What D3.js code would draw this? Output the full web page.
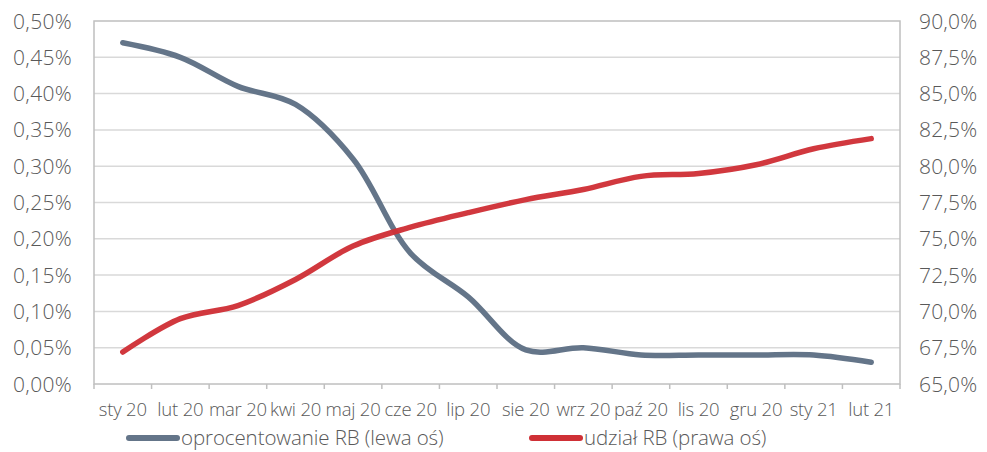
<!DOCTYPE html>
<html>
<head>
<meta charset="utf-8">
<script src="https://cdn.jsdelivr.net/npm/d3@7"></script>
<style>
  html, body { margin: 0; padding: 0; background: #fff; }
  svg { display: block; font-family: "Open Sans", sans-serif; font-weight: 300; }
</style>
</head>
<body>
<svg id="chart" width="987" height="452"></svg>
<script>
// Months on the category axis
const months = ["sty 20", "lut 20", "mar 20", "kwi 20", "maj 20", "cze 20", "lip 20",
                "sie 20", "wrz 20", "paź 20", "lis 20", "gru 20", "sty 21", "lut 21"];
// Interest rate on RB accounts, % (left axis)
const rate = [0.47, 0.45, 0.41, 0.385, 0.31, 0.18, 0.12, 0.047, 0.05, 0.04, 0.04, 0.04, 0.04, 0.03];
// Share of RB accounts, % (right axis)
const share = [67.2, 69.5, 70.4, 72.2, 74.5, 75.8, 76.8, 77.7, 78.4, 79.3, 79.5, 80.1, 81.2, 81.9];

const leftTicks = [0, 0.05, 0.10, 0.15, 0.20, 0.25, 0.30, 0.35, 0.40, 0.45, 0.50];
const rightTicks = [65, 67.5, 70, 72.5, 75, 77.5, 80, 82.5, 85, 87.5, 90];
const legendLabels = ["oprocentowanie RB (lewa oś)", "udział RB (prawa oś)"];

const colors = { rate: "#647589", share: "#cf3036", grid: "#d9d9d9", border: "#bfbfbf", text: "#595959" };

const svg = d3.select("#chart");
const plot = { left: 94, right: 900, top: 21, bottom: 384 };

const x = d3.scaleBand().domain(months).range([plot.left, plot.right]);
const yL = d3.scaleLinear().domain([0, 0.5]).range([plot.bottom, plot.top]);
const yR = d3.scaleLinear().domain([65, 90]).range([plot.bottom, plot.top]);

const fmtL = v => d3.format(".2f")(v).replace(".", ",") + "%";
const fmtR = v => d3.format(".1f")(v).replace(".", ",") + "%";

// Horizontal gridlines
svg.append("g")
  .selectAll("line")
  .data(leftTicks.slice(1, -1))
  .join("line")
  .attr("x1", plot.left).attr("x2", plot.right)
  .attr("y1", d => yL(d)).attr("y2", d => yL(d))
  .attr("stroke", colors.grid).attr("stroke-width", 1.5);

// Plot frame
svg.append("rect")
  .attr("x", plot.left).attr("y", plot.top)
  .attr("width", plot.right - plot.left).attr("height", plot.bottom - plot.top)
  .attr("fill", "none").attr("stroke", colors.border).attr("stroke-width", 1.5);

// Category axis with ticks between months
const xAxis = svg.append("g").attr("transform", `translate(0,${plot.bottom})`);
xAxis.selectAll("line.tick")
  .data(d3.range(months.length + 1))
  .join("line")
  .attr("class", "tick")
  .attr("x1", i => plot.left + i * x.bandwidth())
  .attr("x2", i => plot.left + i * x.bandwidth())
  .attr("y1", 0).attr("y2", 5)
  .attr("stroke", colors.border).attr("stroke-width", 1.5);
xAxis.selectAll("text")
  .data(months)
  .join("text")
  .attr("x", d => x(d) + x.bandwidth() / 2)
  .attr("y", 32)
  .attr("text-anchor", "middle")
  .attr("fill", colors.text)
  .attr("font-size", 18.5)
  .attr("letter-spacing", -0.2)
  .text(d => d);

// Left value axis
svg.append("g")
  .selectAll("text")
  .data(leftTicks)
  .join("text")
  .attr("x", 72)
  .attr("y", d => yL(d))
  .attr("dy", "0.36em")
  .attr("text-anchor", "end")
  .attr("fill", colors.text)
  .attr("font-size", 21)
  .attr("letter-spacing", 0.3)
  .text(fmtL);

// Right value axis
svg.append("g")
  .selectAll("text")
  .data(rightTicks)
  .join("text")
  .attr("x", 919)
  .attr("y", d => yR(d))
  .attr("dy", "0.36em")
  .attr("text-anchor", "start")
  .attr("fill", colors.text)
  .attr("font-size", 21)
  .attr("letter-spacing", 0.2)
  .text(fmtR);

// Smoothed series lines
const cx = (d, i) => x(months[i]) + x.bandwidth() / 2;
const lineRate = d3.line().x(cx).y(d => yL(d)).curve(d3.curveCatmullRom.alpha(0.5));
const lineShare = d3.line().x(cx).y(d => yR(d)).curve(d3.curveCatmullRom.alpha(0.5));

svg.append("path")
  .datum(rate)
  .attr("d", lineRate)
  .attr("fill", "none").attr("stroke", colors.rate)
  .attr("stroke-width", 5.5).attr("stroke-linecap", "round").attr("stroke-linejoin", "round");

svg.append("path")
  .datum(share)
  .attr("d", lineShare)
  .attr("fill", "none").attr("stroke", colors.share).attr("stroke-opacity", 0.96)
  .attr("stroke-width", 5.5).attr("stroke-linecap", "round").attr("stroke-linejoin", "round");

// Legend
const legend = svg.append("g");
const legendItems = [
  { label: legendLabels[0], color: colors.rate, x: 127 },
  { label: legendLabels[1], color: colors.share, x: 530 }
];
legendItems.forEach(item => {
  legend.append("line")
    .attr("x1", item.x + 2).attr("x2", item.x + 50)
    .attr("y1", 438).attr("y2", 438)
    .attr("stroke", item.color).attr("stroke-width", 6).attr("stroke-linecap", "round");
  legend.append("text")
    .attr("x", item.x + 54).attr("y", 438)
    .attr("dy", "0.36em")
    .attr("fill", colors.text)
    .attr("font-size", 20.5)
    .attr("letter-spacing", -0.1)
    .text(item.label);
});
</script>
</body>
</html>
